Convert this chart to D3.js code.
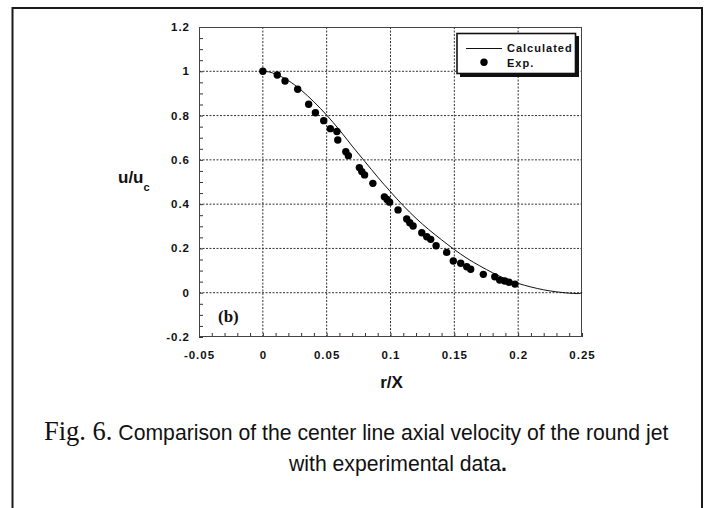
<!DOCTYPE html>
<html>
<head>
<meta charset="utf-8">
<script src="https://cdn.jsdelivr.net/npm/d3@7/dist/d3.min.js"></script>
<style>
  body { margin: 0; background: #fff; }
  svg { display: block; }
  .tick-label { font-family: "Liberation Sans", Arial, sans-serif; font-weight: bold; font-size: 11.5px; letter-spacing: 1px; fill: #111; }
  .legend-label { font-family: "Liberation Sans", Arial, sans-serif; font-weight: bold; font-size: 11px; letter-spacing: 1px; fill: #111; }
</style>
</head>
<body>
<svg id="chart" width="707" height="508"></svg>
<script>
// Axis ticks
const xTickValues = [-0.05, 0, 0.05, 0.1, 0.15, 0.2, 0.25];
const xTickLabels = ["-0.05", "0", "0.05", "0.1", "0.15", "0.2", "0.25"];
const yTickValues = [-0.2, 0, 0.2, 0.4, 0.6, 0.8, 1, 1.2];
const yTickLabels = ["-0.2", "0", "0.2", "0.4", "0.6", "0.8", "1", "1.2"];

// Calculated profile u/uc against r/X
const calcR = [0, 0.005, 0.01, 0.02, 0.03, 0.04, 0.05, 0.06, 0.07, 0.08, 0.09, 0.10, 0.11, 0.12, 0.13, 0.14,
               0.15, 0.16, 0.17, 0.18, 0.19, 0.20, 0.21, 0.22, 0.23, 0.24, 0.247, 0.25];
const calcU = [1.0, 0.997, 0.987, 0.958, 0.915, 0.862, 0.802, 0.735, 0.662, 0.592, 0.522, 0.456, 0.393, 0.336, 0.285, 0.239,
               0.195, 0.155, 0.121, 0.090, 0.063, 0.042, 0.026, 0.013, 0.004, -0.002, -0.004, 0.0];

// Experimental points
const expR = [0, 0.0113, 0.0174, 0.0273, 0.0359, 0.0412, 0.0477, 0.0529, 0.058, 0.0587, 0.065, 0.067,
              0.0756, 0.0775, 0.0797, 0.0862, 0.0952, 0.0973, 0.0993, 0.1059, 0.1127, 0.1151, 0.1177,
              0.1245, 0.1284, 0.1315, 0.1357, 0.144, 0.1492, 0.155, 0.1597, 0.1628, 0.1727, 0.1817,
              0.1855, 0.1895, 0.1928, 0.1975];
const expU = [1.0, 0.983, 0.956, 0.919, 0.851, 0.813, 0.777, 0.741, 0.728, 0.690, 0.637, 0.619,
              0.565, 0.547, 0.532, 0.494, 0.433, 0.421, 0.409, 0.374, 0.333, 0.316, 0.301,
              0.271, 0.253, 0.241, 0.212, 0.182, 0.143, 0.133, 0.117, 0.106, 0.083, 0.072,
              0.057, 0.053, 0.047, 0.039];

const legendLabels = ["Calculated", "Exp."];

const svg = d3.select("#chart");
const plot = { left: 199, right: 582, top: 27, bottom: 337 };

const x = d3.scaleLinear().domain([-0.05, 0.25]).range([plot.left, plot.right]);
const y = d3.scaleLinear().domain([-0.2, 1.2]).range([plot.bottom, plot.top]);

// Outer figure frame (open at the bottom)
svg.append("path")
  .attr("d", "M12.5,508 V8 H702 V508")
  .attr("fill", "none")
  .attr("stroke", "#1a1a1a")
  .attr("stroke-width", 2);

// Dotted grid at interior major ticks
const g = svg.append("g");
g.selectAll("line.vgrid")
  .data(xTickValues.filter(v => v > -0.05 && v < 0.25))
  .join("line")
  .attr("x1", d => x(d)).attr("x2", d => x(d))
  .attr("y1", plot.top).attr("y2", plot.bottom)
  .attr("stroke", "#333").attr("stroke-width", 1)
  .attr("stroke-dasharray", "2,1.5");
g.selectAll("line.hgrid")
  .data(yTickValues.filter(v => v > -0.2 && v < 1.2))
  .join("line")
  .attr("x1", plot.left).attr("x2", plot.right)
  .attr("y1", d => y(d)).attr("y2", d => y(d))
  .attr("stroke", "#333").attr("stroke-width", 1)
  .attr("stroke-dasharray", "2,1.5");

// Inward minor ticks on bottom and left axes
const xMinor = d3.range(0, 31).map(i => -0.05 + i * 0.01);
const yMinor = d3.range(0, 29).map(i => -0.2 + i * 0.05);
svg.append("g").call(
  d3.axisBottom(x).tickValues(xMinor).tickSize(-4).tickFormat("")
).attr("transform", `translate(0,${plot.bottom})`)
 .call(s => s.select(".domain").remove())
 .call(s => s.selectAll("line").attr("stroke", "#333"));
svg.append("g").call(
  d3.axisLeft(y).tickValues(yMinor).tickSize(-4).tickFormat("")
).attr("transform", `translate(${plot.left},0)`)
 .call(s => s.select(".domain").remove())
 .call(s => s.selectAll("line").attr("stroke", "#333"));

// Plot border
svg.append("rect")
  .attr("x", plot.left + 0.5).attr("y", plot.top + 0.5)
  .attr("width", plot.right - plot.left - 1).attr("height", plot.bottom - plot.top - 1)
  .attr("fill", "none").attr("stroke", "#444").attr("stroke-width", 1);

// Tick labels
svg.append("g").selectAll("text")
  .data(xTickValues)
  .join("text")
  .attr("class", "tick-label")
  .attr("x", d => x(d) + 0.5)
  .attr("y", 359)
  .attr("text-anchor", "middle")
  .text((d, i) => xTickLabels[i]);
svg.append("g").selectAll("text")
  .data(yTickValues)
  .join("text")
  .attr("class", "tick-label")
  .attr("x", 190)
  .attr("y", d => y(d) + 4)
  .attr("text-anchor", "end")
  .text((d, i) => yTickLabels[i]);

// Axis titles
svg.append("text")
  .attr("x", (plot.left + plot.right) / 2 + 1)
  .attr("y", 388)
  .attr("text-anchor", "middle")
  .attr("font-family", "'Liberation Sans', Arial, sans-serif")
  .attr("font-weight", "bold")
  .attr("font-size", 17)
  .attr("fill", "#111")
  .text("r/X");
const yTitle = svg.append("text")
  .attr("x", 118)
  .attr("y", 183)
  .attr("font-family", "'Liberation Sans', Arial, sans-serif")
  .attr("font-weight", "bold")
  .attr("font-size", 17)
  .attr("fill", "#111");
yTitle.append("tspan").text("u/u");
yTitle.append("tspan").attr("font-size", 11).attr("dy", 8).text("c");

// Calculated curve
const calcData = calcR.map((r, i) => ({ r, u: calcU[i] }));
svg.append("path")
  .datum(calcData)
  .attr("fill", "none")
  .attr("stroke", "#111")
  .attr("stroke-width", 1)
  .attr("d", d3.line().x(d => x(d.r)).y(d => y(d.u)).curve(d3.curveMonotoneX));

// Experimental points
const expData = expR.map((r, i) => ({ r, u: expU[i] }));
svg.append("g").selectAll("circle")
  .data(expData)
  .join("circle")
  .attr("cx", d => x(d.r))
  .attr("cy", d => y(d.u))
  .attr("r", 3.7)
  .attr("fill", "#000");

// Panel tag
svg.append("text")
  .attr("x", 218)
  .attr("y", 322)
  .attr("font-family", "'Liberation Serif', 'Times New Roman', serif")
  .attr("font-weight", "bold")
  .attr("font-size", 17)
  .attr("fill", "#111")
  .text("(b)");

// Legend with drop shadow
const lg = svg.append("g");
lg.append("rect").attr("x", 460).attr("y", 36).attr("width", 119).attr("height", 41).attr("fill", "#111");
lg.append("rect").attr("x", 457).attr("y", 33.5).attr("width", 118.5).attr("height", 40)
  .attr("fill", "#fff").attr("stroke", "#111").attr("stroke-width", 1.6);
lg.append("line").attr("x1", 466).attr("x2", 502).attr("y1", 48.5).attr("y2", 48.5)
  .attr("stroke", "#111").attr("stroke-width", 1);
lg.append("circle").attr("cx", 484).attr("cy", 62.3).attr("r", 3.7).attr("fill", "#000");
lg.selectAll("text.leg")
  .data(legendLabels)
  .join("text")
  .attr("class", "legend-label")
  .attr("x", 507)
  .attr("y", (d, i) => 52 + i * 15)
  .text(d => d);

// Caption
const cap1 = svg.append("text")
  .attr("x", 44)
  .attr("y", 440)
  .attr("fill", "#111");
cap1.append("tspan")
  .attr("font-family", "'Liberation Serif', 'Times New Roman', serif")
  .attr("font-size", 26.5)
  .text("Fig. 6.");
cap1.append("tspan")
  .attr("font-family", "'Liberation Sans', Arial, sans-serif")
  .attr("font-size", 21.2)
  .text(" Comparison of the center line axial velocity of the round jet");
const cap2 = svg.append("text")
  .attr("x", 289)
  .attr("y", 471)
  .attr("fill", "#111")
  .attr("font-family", "'Liberation Sans', Arial, sans-serif")
  .attr("font-size", 21.2);
cap2.append("tspan").text("with experimental data");
cap2.append("tspan").attr("font-weight", "bold").text(".");
</script>
</body>
</html>
